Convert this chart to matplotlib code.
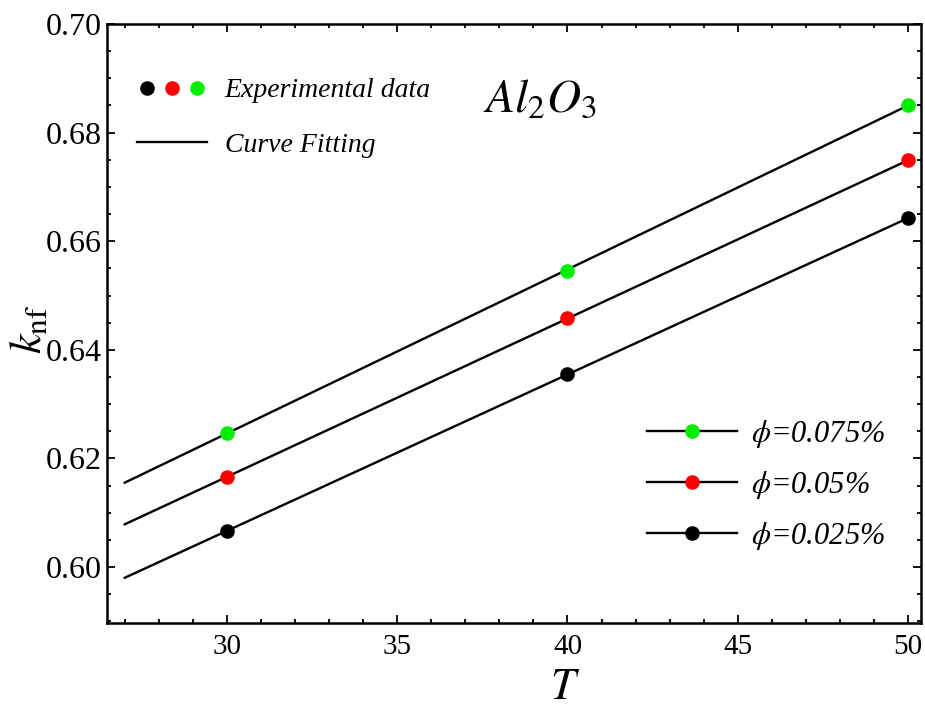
import numpy as np
import matplotlib
matplotlib.use("Agg")
from matplotlib import pyplot as plt
from matplotlib.lines import Line2D
from matplotlib.legend_handler import HandlerTuple

#%% measured thermal conductivity of Al2O3 nanofluid vs temperature
T = [30, 40, 50]
k_025 = [0.6066, 0.6356, 0.6642]
k_050 = [0.6166, 0.6458, 0.6749]
k_075 = [0.6247, 0.6546, 0.6851]

labels = [r"$\phi$=0.075%", r"$\phi$=0.05%", r"$\phi$=0.025%"]
colors = ["#00ee00", "#ff0000", "black"]
series = [k_075, k_050, k_025]

x_ticks = [30, 35, 40, 45, 50]
y_ticks = [0.60, 0.62, 0.64, 0.66, 0.68, 0.70]

plt.rcParams["font.family"] = ["Liberation Serif", "DejaVu Serif"]
plt.rcParams["mathtext.fontset"] = "stix"

#%%
fig = plt.figure(figsize=(9.25, 7.17), dpi=100)
ax = fig.add_axes([0.1157, 0.1311, 0.88, 0.8354])

# straight-line fit through each set, drawn from T=27 up to 50
Tfit = np.linspace(27, 50, 50)
for k, c in zip(series, colors):
    p = np.polyfit(T, k, 1)
    ax.plot(Tfit, np.polyval(p, Tfit), color="black", lw=1.7, zorder=2)
    ax.plot(T, k, "o", color=c, ms=10.5, mec="none", zorder=3)

ax.set_xlim(26.48, 50.38)
ax.set_ylim(0.5897, 0.70)
ax.set_xticks(x_ticks)
ax.set_yticks(y_ticks)
ax.set_yticklabels(["%.2f" % v for v in y_ticks])
ax.set_xticks(np.arange(27, 51, 1), minor=True)
ax.set_yticks(np.arange(0.59, 0.70, 0.005), minor=True)
ax.tick_params(which="both", direction="in", top=True, right=True, width=1.3)
ax.tick_params(which="major", length=6)
ax.tick_params(which="minor", length=3)
ax.tick_params(axis="y", labelsize=23, pad=4)
ax.tick_params(axis="x", labelsize=21, pad=8)
for s in ax.spines.values():
    s.set_linewidth(1.8)

ax.set_xlabel(r"$T$", fontsize=32)
ax.xaxis.set_label_coords(0.563, -0.075)
ax.set_ylabel(r"$k_{\mathrm{nf}}$", fontsize=32)
ax.yaxis.set_label_coords(-0.07, 0.49)

ax.text(0.532, 0.873, r"$\mathit{Al}_{\mathit{2}}\mathit{O}_{\mathit{3}}$",
        transform=ax.transAxes, fontsize=34, ha="center", va="center")

#%% legends
dots = tuple(Line2D([], [], ls="none", marker="o", color=c, ms=10.5, mec="none")
             for c in ["black", "#ff0000", "#00ee00"])
fitline = Line2D([], [], color="black", lw=1.7)
leg1 = ax.legend([dots, fitline], ["Experimental data", "Curve Fitting"],
                 handler_map={tuple: HandlerTuple(ndivide=None, pad=0.22)},
                 loc="upper left", bbox_to_anchor=(0.02, 0.933), frameon=False,
                 prop={"style": "italic", "size": 20}, handlelength=2.5,
                 handletextpad=0.65, labelspacing=1.05, borderpad=0)
ax.add_artist(leg1)

handles = [Line2D([0, 0.5, 1], [0, 0, 0], color="black", lw=1.7, marker="o",
                  ms=10.5, mfc=c, mec="none", markevery=[1]) for c in colors]
ax.legend(handles, labels, loc="upper left", bbox_to_anchor=(0.645, 0.368),
          frameon=False, prop={"style": "italic", "size": 22},
          handlelength=2.95, handletextpad=0.45, labelspacing=0.62,
          borderpad=0, numpoints=1)

fig.savefig("out.png", dpi=100)
